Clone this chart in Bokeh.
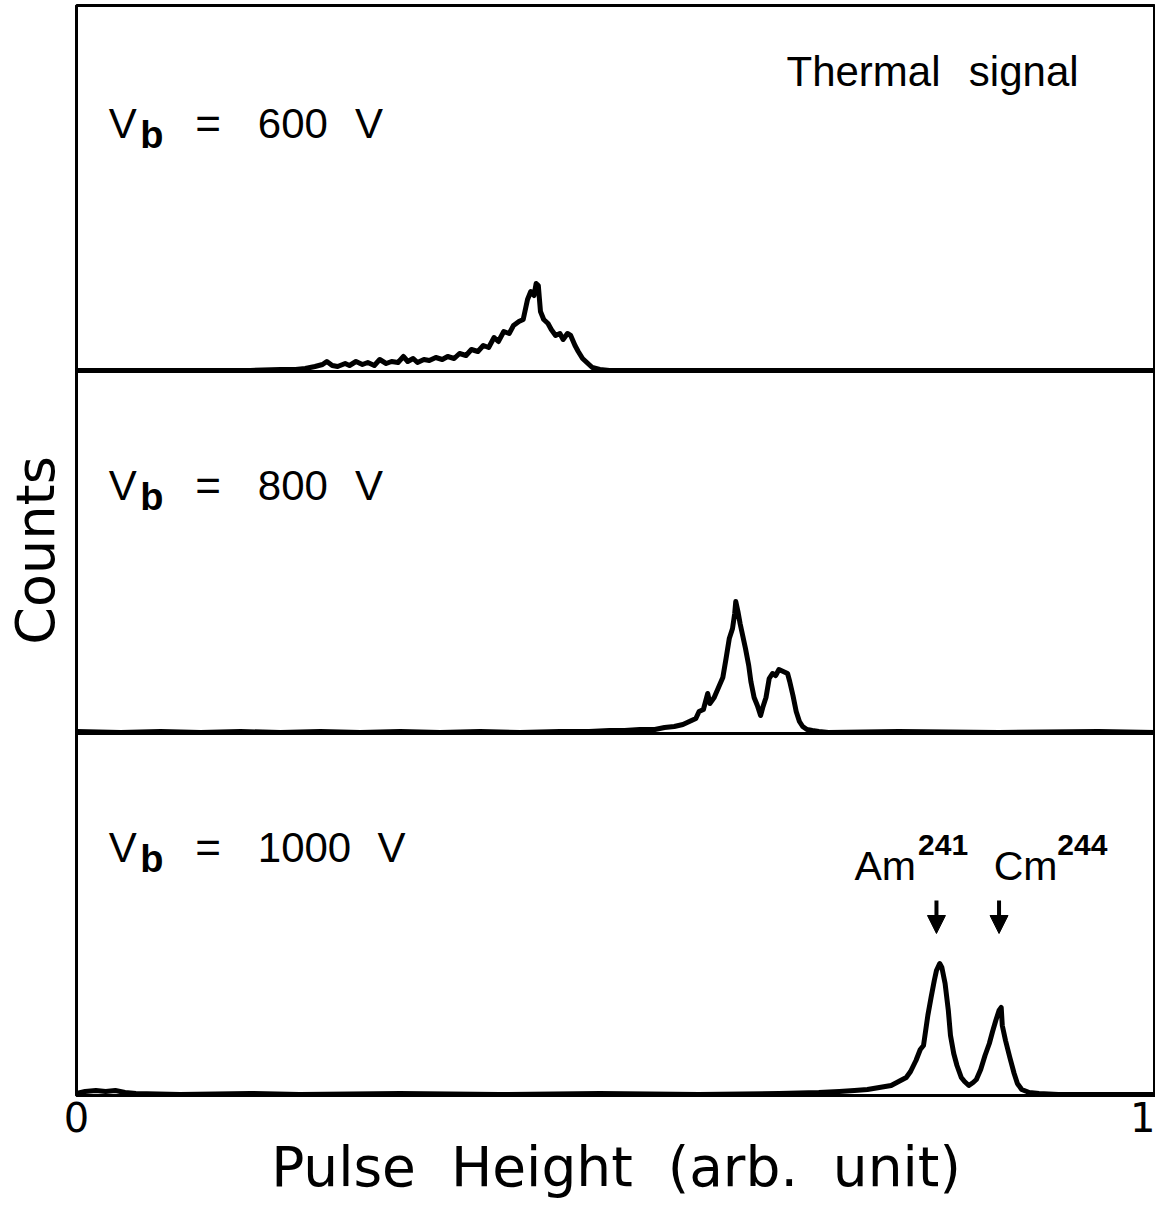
from bokeh.plotting import figure
from bokeh.models import Range1d, FixedTicker, Span, Label, Arrow, NormalHead
from bokeh.embed import file_html
from bokeh.resources import INLINE

# ---------------- data ----------------
PANEL = 362  # counts span of one panel (arbitrary units)

# Vb = 600 V spectrum
x600 = [0.000, 0.022, 0.068, 0.115, 0.161, 0.189, 0.203, 0.212, 0.221, 0.228,
        0.232, 0.237, 0.242, 0.249, 0.253, 0.259, 0.265, 0.270, 0.276, 0.281,
        0.287, 0.292, 0.298, 0.303, 0.307, 0.312, 0.316, 0.322, 0.327, 0.333,
        0.339, 0.344, 0.350, 0.355, 0.361, 0.366, 0.372, 0.377, 0.382, 0.387,
        0.391, 0.396, 0.401, 0.405, 0.410, 0.414, 0.418, 0.421, 0.424, 0.426,
        0.428, 0.430, 0.433, 0.437, 0.440, 0.444, 0.448, 0.451, 0.455, 0.458,
        0.462, 0.465, 0.469, 0.474, 0.478, 0.485, 0.494, 0.531, 0.577, 0.670,
        0.762, 0.855, 0.947, 1.000]
c600 = [1, 1, 1, 1, 1, 2, 2, 3, 5, 7,
        10, 6, 5, 8, 6, 10, 7, 9, 6, 12,
        8, 10, 9, 15, 10, 13, 9, 12, 11, 14,
        12, 15, 13, 18, 16, 22, 20, 26, 24, 34,
        30, 40, 38, 46, 50, 52, 72, 80, 76, 88,
        86, 60, 52, 48, 42, 36, 38, 32, 38, 36,
        26, 20, 13, 8, 4, 2, 1, 1, 1, 1,
        1, 1, 1, 1]

# Vb = 800 V spectrum
x800 = [0.000, 0.041, 0.078, 0.115, 0.152, 0.189, 0.226, 0.263, 0.300, 0.337,
        0.374, 0.411, 0.448, 0.475, 0.494, 0.508, 0.522, 0.536, 0.545, 0.554,
        0.562, 0.568, 0.574, 0.577, 0.581, 0.585, 0.587, 0.591, 0.595, 0.599,
        0.602, 0.605, 0.608, 0.610, 0.611, 0.613, 0.615, 0.617, 0.620, 0.623,
        0.625, 0.628, 0.631, 0.634, 0.636, 0.639, 0.642, 0.645, 0.648, 0.651,
        0.655, 0.659, 0.661, 0.664, 0.667, 0.670, 0.673, 0.677, 0.682, 0.688,
        0.697, 0.762, 0.855, 0.947, 1.000]
c800 = [2, 1, 2, 1, 2, 1, 2, 1, 2, 1,
        2, 1, 2, 2, 3, 3, 4, 4, 6, 7,
        9, 12, 15, 22, 24, 40, 30, 36, 46, 56,
        75, 95, 105, 120, 132, 122, 110, 100, 85, 68,
        52, 36, 28, 18, 26, 36, 55, 60, 58, 64,
        62, 60, 52, 38, 22, 12, 7, 4, 3, 2,
        1, 2, 1, 2, 1]

# Vb = 1000 V spectrum
x1000 = [0.000, 0.008, 0.018, 0.027, 0.036, 0.045, 0.055, 0.096, 0.161, 0.207,
         0.300, 0.392, 0.485, 0.577, 0.651, 0.688, 0.707, 0.721, 0.733, 0.744,
         0.755, 0.762, 0.769, 0.773, 0.778, 0.782, 0.785, 0.789, 0.792, 0.795,
         0.797, 0.800, 0.802, 0.805, 0.808, 0.810, 0.813, 0.816, 0.820, 0.823,
         0.827, 0.831, 0.834, 0.838, 0.842, 0.846, 0.849, 0.852, 0.855, 0.857,
         0.858, 0.861, 0.865, 0.869, 0.872, 0.876, 0.883, 0.892, 0.910, 1.000]
c1000 = [2, 4, 5, 4, 5, 3, 2, 1, 2, 1,
         2, 1, 2, 1, 2, 3, 4, 5, 6, 8,
         10, 14, 18, 24, 35, 46, 50, 80, 98, 115,
         125, 132, 128, 112, 85, 60, 42, 30, 18, 14,
         10, 13, 16, 26, 40, 52, 64, 75, 85, 88,
         70, 55, 38, 22, 12, 6, 3, 2, 1, 1]

voltages = ["600", "800", "1000"]
offsets = [2 * PANEL, PANEL, 0]
x_ticks = [0, 1]

ANN_FONT = "Liberation Sans"
AX_FONT = "DejaVu Sans"

# ---------------- figure ----------------
p = figure(width=1155, height=1203,
           x_range=Range1d(0, 1.0), y_range=Range1d(0, 3 * PANEL + 4),
           output_backend="svg", toolbar_location=None,
           min_border_left=75, min_border_right=0, min_border_top=5,
           min_border_bottom=108)

p.grid.visible = False
p.outline_line_color = "black"
p.outline_line_width = 3
p.background_fill_color = "white"
p.border_fill_color = "white"

# x axis
p.xaxis.ticker = FixedTicker(ticks=x_ticks)
p.xaxis.major_tick_line_color = None
p.xaxis.minor_tick_line_color = None
p.xaxis.major_tick_out = 0
p.xaxis.major_tick_in = 0
p.xaxis.axis_line_width = 3
p.xaxis.major_label_text_font = AX_FONT
p.xaxis.major_label_text_font_size = "40px"
p.xaxis.major_label_text_color = "black"
p.xaxis.major_label_standoff = 6
p.xaxis.axis_label = "Pulse\u00a0 Height\u00a0 (arb.\u00a0 unit)"
p.xaxis.axis_label_text_font = AX_FONT
p.xaxis.axis_label_text_font_size = "55px"
p.xaxis.axis_label_text_font_style = "normal"
p.xaxis.axis_label_text_color = "black"
p.xaxis.axis_label_standoff = 0

# y axis (no ticks)
p.yaxis.ticker = FixedTicker(ticks=[])
p.yaxis.major_tick_line_color = None
p.yaxis.minor_tick_line_color = None
p.yaxis.major_tick_out = 0
p.yaxis.major_tick_in = 0
p.yaxis.major_label_standoff = 0
p.yaxis.axis_line_width = 3
p.yaxis.axis_label = "Counts"
p.yaxis.axis_label_text_font = AX_FONT
p.yaxis.axis_label_text_font_size = "54px"
p.yaxis.axis_label_text_font_style = "normal"
p.yaxis.axis_label_text_color = "black"
p.yaxis.axis_label_standoff = 10

# panel dividers
for off in offsets[:2]:
    p.add_layout(Span(location=off, dimension="width",
                      line_color="black", line_width=3))

# spectra
for xs, cs, off in zip([x600, x800, x1000], [c600, c800, c1000], offsets):
    p.line(xs, [c + off for c in cs], line_color="black", line_width=5,
           line_join="round")

# voltage labels
for v, off in zip(voltages, offsets):
    base = off + 248
    p.add_layout(Label(x=0.030, y=base, text="V", text_font=ANN_FONT,
                       text_font_size="42px", text_color="black",
                       text_baseline="alphabetic"))
    p.add_layout(Label(x=0.059, y=base - 11, text="b", text_font=ANN_FONT,
                       text_font_size="38px", text_font_style="bold",
                       text_color="black", text_baseline="alphabetic"))
    p.add_layout(Label(x=0.110, y=base, text="=", text_font=ANN_FONT,
                       text_font_size="44px", text_color="black",
                       text_baseline="alphabetic"))
    p.add_layout(Label(x=0.168, y=base, text=v, text_font=ANN_FONT,
                       text_font_size="42px", text_color="black",
                       text_baseline="alphabetic"))
    vx = 0.279 if len(v) == 4 else 0.258
    p.add_layout(Label(x=vx, y=base, text="V", text_font=ANN_FONT,
                       text_font_size="42px", text_color="black",
                       text_baseline="alphabetic"))

# title-like annotation
p.add_layout(Label(x=0.658, y=offsets[0] + 300, text="Thermal", text_font=ANN_FONT,
                   text_font_size="42px", text_color="black",
                   text_baseline="alphabetic"))
p.add_layout(Label(x=0.827, y=offsets[0] + 300, text="signal", text_font=ANN_FONT,
                   text_font_size="42px", text_color="black",
                   text_baseline="alphabetic"))

# isotope labels
for name, sup, xn, xs_ in [("Am", "241", 0.721, 0.780), ("Cm", "244", 0.850, 0.909)]:
    p.add_layout(Label(x=xn, y=230, text=name, text_font=ANN_FONT,
                       text_font_size="41px", text_color="black",
                       text_baseline="alphabetic"))
    p.add_layout(Label(x=xs_, y=251, text=sup, text_font=ANN_FONT,
                       text_font_size="30px", text_font_style="bold",
                       text_color="black", text_baseline="alphabetic"))

for ax in [0.797, 0.855]:
    p.add_layout(Arrow(end=NormalHead(size=18, fill_color="black", line_color="black"),
                       x_start=ax, y_start=195, x_end=ax, y_end=162,
                       line_color="black", line_width=4))

open("out.html", "w").write(file_html(p, INLINE))
